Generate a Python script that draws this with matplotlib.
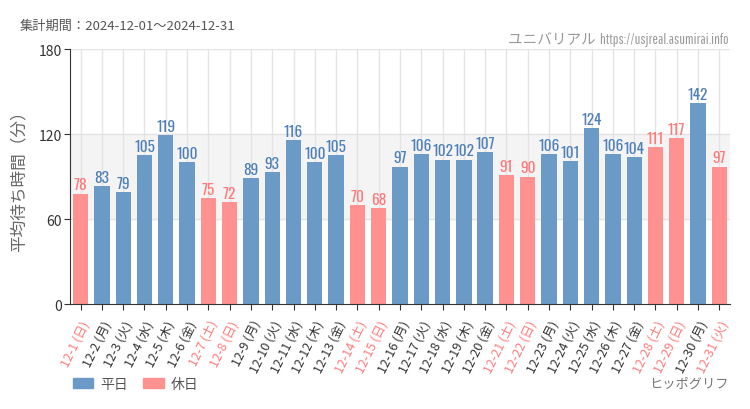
import matplotlib
matplotlib.use('Agg')
import matplotlib.pyplot as plt
from matplotlib.patches import Patch

plt.rcParams['font.family'] = ['Noto Sans CJK JP', 'DejaVu Sans']

### Data
dates = ['12-%d' % d for d in range(1, 32)]
weekdays = ['日', '月', '火', '水', '木', '金', '土'] * 5
weekdays = weekdays[:31]
values = [78, 83, 79, 105, 119, 100, 75, 72, 89, 93, 116, 100, 105, 70, 68,
          97, 106, 102, 102, 107, 91, 90, 106, 101, 124, 106, 104, 111, 117, 142, 97]
holidays = [1, 0, 0, 0, 0, 0, 1, 1, 0, 0, 0, 0, 0, 1, 1,
            0, 0, 0, 0, 0, 1, 1, 0, 0, 0, 0, 0, 1, 1, 0, 1]
yticks = [0, 60, 120, 180]

blue = '#6b9ac6'
pink = '#ff9191'
blue_txt = '#4f80b8'
pink_txt = '#ff7a7a'

fig = plt.figure(figsize=(7.5, 4.1), dpi=100)
ax = fig.add_axes([0.0933, 0.256, 0.88, 0.622])

x = list(range(len(values)))
colors = [pink if h else blue for h in holidays]
ax.axhspan(60, 120, color='#f4f4f4', zorder=0)
for xi in x:
    ax.axvline(xi, color='#e4e4e4', lw=1, zorder=0.5)
for yv in yticks[1:]:
    ax.axhline(yv, color='#e4e4e4', lw=1, zorder=0.5)
ax.bar(x, values, width=0.72, color=colors, zorder=2)

### value labels on top of the bars
for xi, v, h in zip(x, values, holidays):
    ax.text(xi, v + 0.8, str(v), ha='center', va='bottom', fontsize=11, fontweight='light',
            color=pink_txt if h else blue_txt, family=['Oswald', 'DejaVu Sans'])

ax.set_xlim(-0.5, 30.5)
ax.set_ylim(0, 180)
ax.set_yticks(yticks)
ax.set_xticks(x)
labels = ['%s (%s)' % (d, w) for d, w in zip(dates, weekdays)]
ax.set_xticklabels(labels, rotation=64, ha='right', rotation_mode='anchor', fontsize=9)
for lab, h in zip(ax.get_xticklabels(), holidays):
    lab.set_color(pink_txt if h else '#333333')
ax.tick_params(axis='y', labelsize=10, colors='#333333', length=4, pad=2)
ax.tick_params(axis='x', length=4, color='#333333', pad=6)
for s in ['top', 'right']:
    ax.spines[s].set_visible(False)
ax.spines['left'].set_color('#333333')
ax.spines['bottom'].set_color('#333333')
ax.set_ylabel('平均待ち時間（分）', fontsize=12, color='#666666', labelpad=8)

fig.text(20 / 750, 1 - 26 / 410, '集計期間：2024-12-01～2024-12-31', fontsize=9.5,
         color='#555555', va='center')
fig.text(729 / 750, 1 - 40 / 410, 'ユニバリアル  https://usjreal.asumirai.info', fontsize=10.5,
         color='#999999', ha='right', va='center', family=['Pathway Gothic One', 'Noto Sans CJK JP'])
fig.text(729 / 750, 1 - 384 / 410, 'ヒッポグリフ', fontsize=9.5, color='#777777',
         ha='right', va='center')

handles = [Patch(color=blue, label='平日'), Patch(color=pink, label='休日')]
fig.legend(handles=handles, loc='center left', bbox_to_anchor=(60 / 750, 1 - 385 / 410),
           ncol=2, frameon=False, fontsize=10, handlelength=1.5, handleheight=0.8,
           handletextpad=0.5, columnspacing=1.1, labelcolor='#555555')

fig.savefig('out.png')
